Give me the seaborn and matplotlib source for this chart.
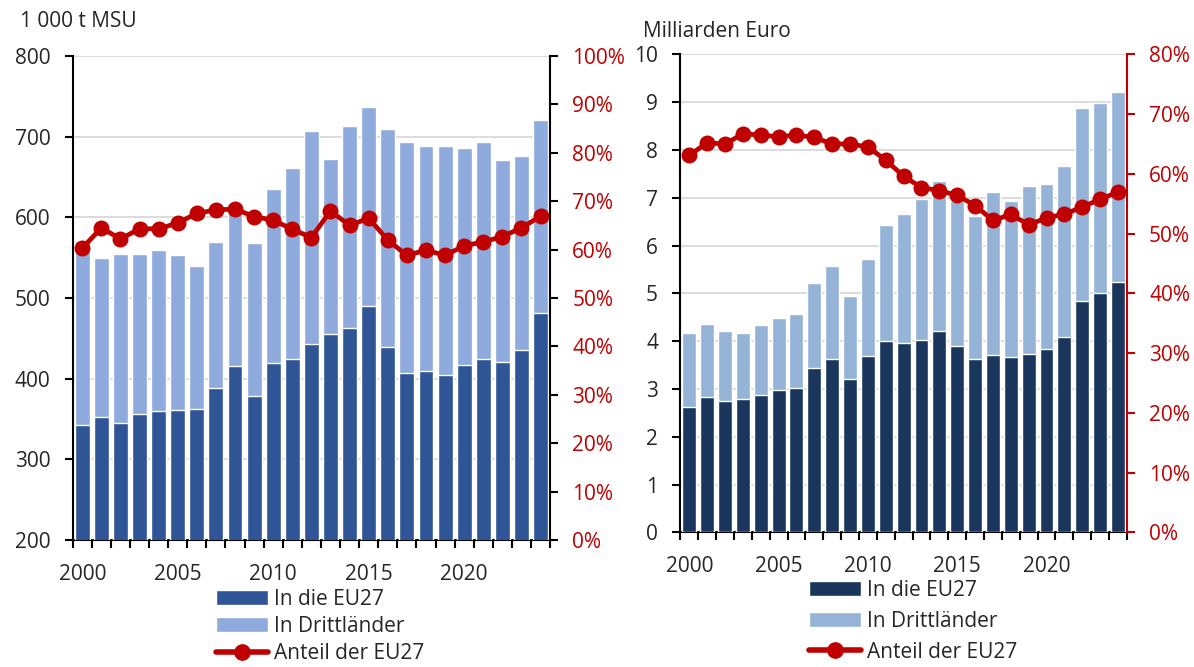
import numpy as np
import matplotlib
matplotlib.use("Agg")
import matplotlib.pyplot as plt
from matplotlib.patches import Patch
from matplotlib.lines import Line2D
from matplotlib.ticker import FixedLocator, PercentFormatter
import seaborn as sns

# ---- data ----
years = list(range(2000, 2025))

# left: volume, 1 000 t MSU
vol_total = [571, 549, 555, 554, 559, 553, 540, 570, 608, 568, 635, 661, 707, 672, 713,
             737, 709, 693, 688, 689, 686, 693, 671, 676, 721]
vol_eu27 = [343, 353, 345, 356, 360, 361, 363, 388, 416, 379, 420, 424, 443, 456, 463,
            490, 439, 407, 410, 405, 417, 425, 421, 436, 481]
vol_share = [60.3, 64.5, 62.2, 64.3, 64.3, 65.5, 67.5, 68.2, 68.4, 66.8, 66.1, 64.2, 62.5,
             68.0, 65.0, 66.5, 62.0, 58.8, 59.9, 58.8, 60.8, 61.6, 62.7, 64.5, 66.9]

# right: value, Milliarden Euro
val_total = [4.16, 4.35, 4.21, 4.18, 4.34, 4.48, 4.56, 5.21, 5.58, 4.95, 5.72, 6.43, 6.65,
             6.98, 7.35, 6.93, 6.62, 7.13, 6.93, 7.24, 7.28, 7.66, 8.88, 8.99, 9.22]
val_eu27 = [2.62, 2.83, 2.75, 2.79, 2.87, 2.98, 3.03, 3.44, 3.63, 3.21, 3.69, 4.00, 3.96,
            4.03, 4.21, 3.90, 3.63, 3.72, 3.67, 3.73, 3.83, 4.08, 4.84, 5.01, 5.24]
val_share = [63.1, 65.2, 65.0, 66.7, 66.5, 66.2, 66.5, 66.1, 65.0, 65.0, 64.5, 62.3, 59.6,
             57.7, 57.2, 56.4, 54.7, 52.2, 53.2, 51.5, 52.6, 53.3, 54.4, 55.8, 56.9]

labels = ["In die EU27", "In Drittländer", "Anteil der EU27"]

RED = "#C00000"
GRID = "#D9D9D9"

sns.set_style("white")
plt.rcParams["font.family"] = ["Open Sans", "DejaVu Sans"]
plt.rcParams["font.size"] = 15


def draw_panel(ax, total, eu, share, dark, light, ylim, yticks, share_max, share_step,
               right_spine_color):
    pos = np.arange(len(years))
    sns.barplot(x=pos, y=total, color=light, saturation=1, width=0.78, ax=ax,
                native_scale=True, zorder=2)
    sns.barplot(x=pos, y=eu, color=dark, saturation=1, width=0.78, ax=ax,
                native_scale=True, zorder=3)
    ax.set_xlim(-0.5, len(years) - 0.5)
    ax.set_ylim(*ylim)
    ax.set_yticks(yticks)
    ax.yaxis.grid(True, color=GRID, linewidth=1.3)
    ax.set_axisbelow(True)

    ax.xaxis.set_major_locator(FixedLocator(pos[::5]))
    ax.set_xticklabels([str(y) for y in years[::5]])
    ax.xaxis.set_minor_locator(FixedLocator(np.arange(-0.5, len(years), 1.0)))
    ax.tick_params(axis="x", which="major", length=0, pad=17)
    ax.tick_params(axis="x", which="minor", length=6, width=1.5, direction="out",
                   bottom=True, color="black")
    ax.tick_params(axis="y", length=6, width=1.5, direction="out", left=True, pad=10,
                   color="black")
    ax.set_xlabel("")
    ax.set_ylabel("")
    for s in ["left", "bottom"]:
        ax.spines[s].set_color("black")
        ax.spines[s].set_linewidth(1.5)
    ax.spines["top"].set_visible(False)
    ax.spines["right"].set_visible(False)

    tw = ax.twinx()
    sns.lineplot(x=pos, y=share, ax=tw, color=RED, linewidth=3.4, marker="o",
                 markersize=11.5, markeredgewidth=0, zorder=5)
    tw.set_xlim(-0.5, len(years) - 0.5)
    tw.set_ylim(0, share_max)
    tw.set_yticks(np.arange(0, share_max + 0.1, share_step))
    tw.yaxis.set_major_formatter(PercentFormatter(decimals=0))
    tw.tick_params(axis="y", length=6, width=1.5, direction="out", right=True, pad=10,
                   labelcolor=RED, color=right_spine_color)
    tw.set_ylabel("")
    for s in ["top", "left", "bottom"]:
        tw.spines[s].set_visible(False)
    tw.spines["right"].set_color(right_spine_color)
    tw.spines["right"].set_linewidth(1.5)
    return tw


fig = plt.figure(figsize=(11.94, 6.67), dpi=100)
ax1 = fig.add_axes([0.0609, 0.1904, 0.3998, 0.7256])
ax2 = fig.add_axes([0.5698, 0.2019, 0.3740, 0.7166])

dark1, light1 = "#2F5597", "#8FAADC"
dark2, light2 = "#1B365D", "#95B3D7"

draw_panel(ax1, vol_total, vol_eu27, vol_share, dark1, light1, (200, 800),
           range(200, 801, 100), 100, 10, "black")
draw_panel(ax2, val_total, val_eu27, val_share, dark2, light2, (0, 10),
           range(0, 11, 1), 80, 10, RED)

fig.text(0.0168, 0.9685, "1 000 t MSU", ha="left", va="center", fontsize=15)
fig.text(0.5385, 0.9535, "Milliarden Euro", ha="left", va="center", fontsize=15)


def legend_handles(dark, light):
    return [Patch(facecolor=dark), Patch(facecolor=light),
            Line2D([0], [0], color=RED, linewidth=4, marker="o", markersize=11)]


fig.legend(legend_handles(dark1, light1), labels, loc="upper left",
           bbox_to_anchor=(0.181, 0.1174), frameon=False, borderpad=0, borderaxespad=0,
           handlelength=2.5, handletextpad=0.3, labelspacing=0.3, fontsize=15)
fig.legend(legend_handles(dark2, light2), labels, loc="upper left",
           bbox_to_anchor=(0.6773, 0.1309), frameon=False, borderpad=0, borderaxespad=0,
           handlelength=2.5, handletextpad=0.3, labelspacing=0.48, fontsize=15)

fig.savefig("out.png", dpi=100)
